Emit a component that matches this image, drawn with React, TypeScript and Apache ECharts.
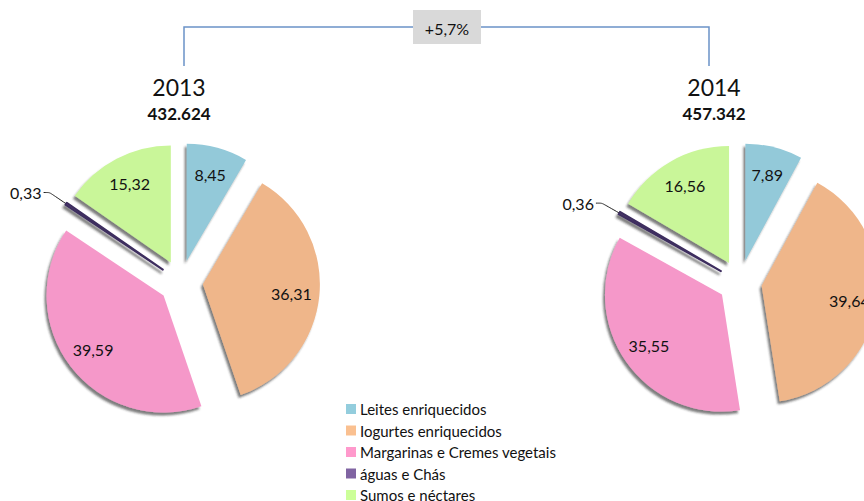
import React, { useEffect, useRef } from 'react';
import * as echarts from 'echarts';

const categories = [
  'Leites enriquecidos',
  'Iogurtes enriquecidos',
  'Margarinas e Cremes vegetais',
  'águas e Chás',
  'Sumos e néctares',
];
const values2013 = [8.45, 36.31, 39.59, 0.33, 15.32];
const values2014 = [7.89, 39.64, 35.55, 0.36, 16.56];
const years = ['2013', '2014'];
const totals = ['432.624', '457.342'];
const growthLabel = '+5,7%';

const sliceColors = ['#93c9d9', '#efb68a', '#f598c9', '#4e3b72', '#c9f699'];
const legendColors = ['#93cddd', '#fac090', '#ff99cc', '#8064a2', '#ccff99'];

const FONT = 'Lato, "Open Sans", sans-serif';
const R = 117;
const OFFSET = 22;
const CY = 282;
const SMALL = 3;

const fmt = (p: any) => Number(p.value).toFixed(2).replace('.', ',');

function mainPie(vals: number[], cx: number) {
  return {
    type: 'pie',
    center: [cx, CY],
    radius: R,
    startAngle: 90,
    clockwise: true,
    selectedMode: 'multiple',
    selectedOffset: OFFSET,
    avoidLabelOverlap: false,
    emphasis: { scale: false },
    z: 2,
    itemStyle: {
      shadowBlur: 2,
      shadowColor: 'rgba(40,40,40,0.6)',
      shadowOffsetX: -2,
      shadowOffsetY: 3,
    },
    label: { show: false },
    labelLine: { show: false },
    data: vals.map((v, i) => {
      const item: any = {
        name: categories[i],
        value: v,
        selected: true,
        itemStyle: { color: sliceColors[i] },
      };
      if (i === SMALL) {
        item.itemStyle.borderColor = '#3e2d5e';
        item.itemStyle.borderWidth = 2;
        item.label = {
          show: true,
          position: 'outside',
          formatter: fmt,
          fontSize: 16,
          fontFamily: FONT,
          color: '#111',
          distanceToLabelLine: 2,
        };
        item.labelLine = {
          show: true,
          length: 20,
          length2: 6,
          smooth: 0.2,
          lineStyle: { color: '#222', width: 1 },
        };
      }
      return item;
    }),
  };
}

function labelPie(vals: number[], cx: number) {
  return {
    type: 'pie',
    center: [cx, CY],
    radius: 172,
    startAngle: 90,
    clockwise: true,
    selectedMode: 'multiple',
    selectedOffset: OFFSET,
    avoidLabelOverlap: false,
    silent: true,
    emphasis: { scale: false },
    z: 3,
    itemStyle: { color: 'rgba(0,0,0,0)' },
    label: {
      show: true,
      position: 'inside',
      formatter: fmt,
      fontSize: 16,
      fontFamily: FONT,
      color: '#111',
    },
    labelLine: { show: false },
    data: vals.map((v, i) => ({
      name: categories[i],
      value: v,
      selected: true,
      label: i === SMALL ? { show: false } : undefined,
    })),
  };
}

export default function App() {
  const ref = useRef<HTMLDivElement>(null);
  useEffect(() => {
    document.body.style.margin = '0';
    if (!ref.current) return;
    const chart = echarts.init(ref.current, null, { renderer: 'svg' });
    const titleX = [179, 714];
    chart.setOption({
      animation: false,
      backgroundColor: '#ffffff',
      legend: {
        orient: 'vertical',
        left: 346,
        top: 401,
        height: 130,
        padding: 0,
        itemWidth: 10,
        itemHeight: 10,
        itemGap: 5.5,
        icon: 'rect',
        selectedMode: false,
        itemStyle: { borderWidth: 0, shadowBlur: 0, shadowOffsetX: 0, shadowOffsetY: 0 },
        textStyle: { fontSize: 15, fontFamily: FONT, color: '#111', lineHeight: 16, padding: [0, 0, 0, -1] },
        data: categories.map((c, i) => ({
          name: c,
          itemStyle: {
            color: legendColors[i],
            borderColor: legendColors[i],
            borderWidth: 0,
            shadowBlur: 0,
            shadowOffsetX: 0,
            shadowOffsetY: 0,
          },
        })),
      },
      graphic: [
        {
          type: 'polyline',
          shape: { points: [[184, 66], [184, 27], [709, 27], [709, 66]] },
          style: { stroke: '#6b93c8', lineWidth: 1.5, fill: null },
        },
        { type: 'rect', shape: { x: 413, y: 10, width: 68, height: 34 }, style: { fill: '#d9d9d9' } },
        {
          type: 'text',
          x: 447,
          y: 28,
          style: { text: growthLabel, fontSize: 16, fontFamily: FONT, fill: '#111', align: 'center', verticalAlign: 'middle' },
        },
        ...years.map((y, i) => ({
          type: 'text',
          x: titleX[i],
          y: 87,
          style: { text: y, fontSize: 23, fontFamily: FONT, fill: '#111', align: 'center', verticalAlign: 'middle' },
        })),
        ...totals.map((t, i) => ({
          type: 'text',
          x: titleX[i],
          y: 113,
          style: { text: t, fontSize: 17, fontWeight: 'bold', fontFamily: FONT, fill: '#111', align: 'center', verticalAlign: 'middle' },
        })),
      ],
      series: [
        mainPie(values2013, 181),
        mainPie(values2014, 740),
        labelPie(values2013, 181),
        labelPie(values2014, 740),
      ],
    });
    return () => chart.dispose();
  }, []);
  return <div ref={ref} style={{ width: 864, height: 501 }} />;
}
